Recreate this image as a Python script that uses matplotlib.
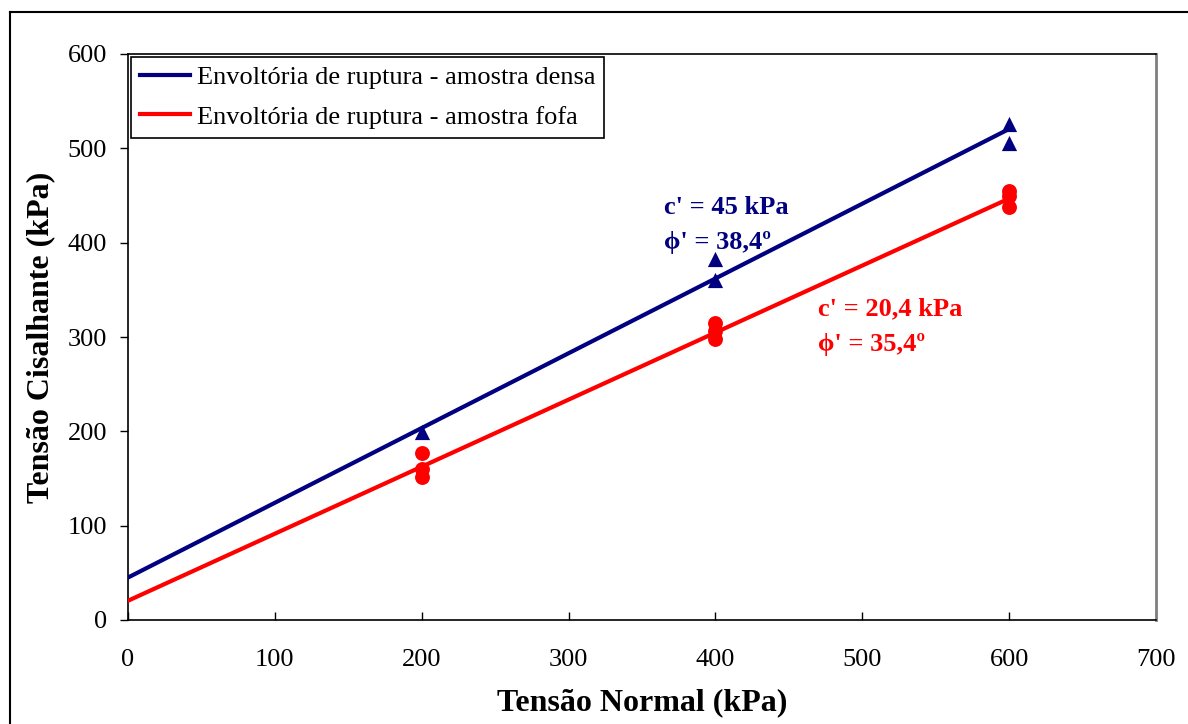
import matplotlib
matplotlib.use("Agg")
import matplotlib.pyplot as plt
import numpy as np
from matplotlib.lines import Line2D

plt.rcParams['font.family'] = ['Liberation Serif', 'DejaVu Serif']

# Direct shear results (normal stress, shear stress), kPa
dense_sigma = [200, 400, 400, 600, 600]
dense_tau = [199, 383, 360, 526, 506]
loose_sigma = [200, 200, 200, 400, 400, 400, 600, 600, 600]
loose_tau = [177, 160, 152, 315, 306, 298, 455, 450, 438]

# Failure envelopes: cohesion (kPa) and friction angle (degrees)
dense_c, dense_phi = 45.0, 38.4
loose_c, loose_phi = 20.4, 35.4
envelope_sigma = [0, 600]

x_ticks = [0, 100, 200, 300, 400, 500, 600, 700]
y_ticks = [0, 100, 200, 300, 400, 500, 600]

navy = '#000080'
red = '#ff0000'

fig = plt.figure(figsize=(11.88, 7.24), dpi=100)
ax = fig.add_axes([128 / 1188, 104 / 724, 1028 / 1188, 566 / 724])

sig = np.array(envelope_sigma, dtype=float)
ax.plot(sig, dense_c + sig * np.tan(np.radians(dense_phi)), color=navy, lw=3,
        label='Envoltória de ruptura - amostra densa', zorder=3)
ax.plot(sig, loose_c + sig * np.tan(np.radians(loose_phi)), color=red, lw=3,
        label='Envoltória de ruptura - amostra fofa', zorder=3)
ax.scatter(dense_sigma, dense_tau, marker='^', s=120, color=navy, zorder=4,
           linewidths=0)
ax.scatter(loose_sigma, loose_tau, marker='o', s=115, color=red, zorder=4,
           linewidths=0)

ax.set_xlim(0, 700)
ax.set_ylim(0, 600)
ax.set_xticks(x_ticks)
ax.set_yticks(y_ticks)
ax.tick_params(axis='x', direction='in', length=6, width=1, pad=21, labelsize=19)
ax.tick_params(axis='y', direction='out', length=6, width=1, pad=9, labelsize=19)

for side in ('left', 'bottom', 'top'):
    ax.spines[side].set_color('black')
    ax.spines[side].set_linewidth(1.2)
ax.spines['right'].set_color('#808080')
ax.spines['right'].set_linewidth(2)

ax.set_xlabel('Tensão Normal (kPa)', fontsize=23, fontweight='bold', labelpad=12)
ax.set_ylabel('Tensão Cisalhante (kPa)', fontsize=23, fontweight='bold', labelpad=9)

ax.text(365, 437, "c' = 45 kPa", color=navy, fontsize=19, fontweight='bold',
        ha='left', va='center')
ax.text(365, 400, "\u03d5' = 38,4º", color=navy, fontsize=19, fontweight='bold',
        ha='left', va='center')
ax.text(470, 330, "c' = 20,4 kPa", color=red, fontsize=19, fontweight='bold',
        ha='left', va='center')
ax.text(470, 292, "\u03d5' = 35,4º", color=red, fontsize=19, fontweight='bold',
        ha='left', va='center')

leg = ax.legend(loc='upper left', bbox_to_anchor=(0.0, 1.0), fontsize=19,
                frameon=True, fancybox=False, framealpha=1, borderaxespad=0.1,
                handlelength=1.9, handletextpad=0.25, borderpad=0.35,
                labelspacing=0.6)
leg.get_frame().set_edgecolor('black')
leg.get_frame().set_linewidth(1.2)

# Outer chart frame (left and top edges visible)
fig.add_artist(Line2D([10 / 1188, 10 / 1188], [0, 1 - 12 / 724],
                      transform=fig.transFigure, color='black', lw=1.5))
fig.add_artist(Line2D([10 / 1188, 1], [1 - 12 / 724, 1 - 12 / 724],
                      transform=fig.transFigure, color='black', lw=1.5))

fig.savefig('out.png', dpi=100)
